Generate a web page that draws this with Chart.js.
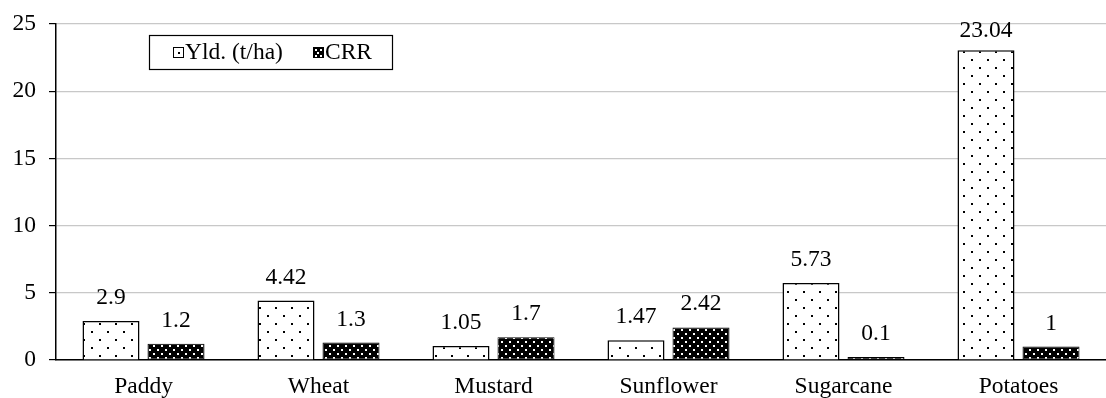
<!DOCTYPE html>
<html>
<head>
<meta charset="utf-8">
<script src="https://cdn.jsdelivr.net/npm/chart.js@4.4.1/dist/chart.umd.min.js"></script>
<style>
  html, body { margin: 0; padding: 0; background: #ffffff; }
  #wrap { width: 1106px; height: 398px; position: relative; }
</style>
</head>
<body>
<div id="wrap"><canvas id="c"></canvas></div>
<script>
// Crop yield and CRR by crop
const categories = ['Paddy', 'Wheat', 'Mustard', 'Sunflower', 'Sugarcane', 'Potatoes'];
const yieldValues = [2.9, 4.42, 1.05, 1.47, 5.73, 23.04];
const crrValues = [1.2, 1.3, 1.7, 2.42, 0.1, 1];
const seriesNames = ['Yld. (t/ha)', 'CRR'];
const yTicks = [0, 5, 10, 15, 20, 25];

const FONT = '"Liberation Serif", "Times New Roman", serif';
const FONT_SIZE = 23.5;

// Sparse black dots on white
function lightDots() {
  const t = document.createElement('canvas');
  t.width = 16; t.height = 16;
  const g = t.getContext('2d');
  g.fillStyle = '#ffffff'; g.fillRect(0, 0, 16, 16);
  g.fillStyle = '#000000';
  g.fillRect(3, 3, 2, 2);
  g.fillRect(11, 11, 2, 2);
  return g.createPattern(t, 'repeat');
}
// Dense white dots on black
function darkDots() {
  const t = document.createElement('canvas');
  t.width = 8; t.height = 8;
  const g = t.getContext('2d');
  g.fillStyle = '#000000'; g.fillRect(0, 0, 8, 8);
  g.fillStyle = '#ffffff';
  g.fillRect(1, 1, 2, 2);
  g.fillRect(5, 5, 2, 2);
  return g.createPattern(t, 'repeat');
}

// Value printed above each bar, kept below the top of the plot area
const valueLabels = {
  id: 'valueLabels',
  afterDatasetsDraw(chart) {
    const ctx = chart.ctx;
    const minBase = chart.chartArea.top + 13;
    ctx.save();
    ctx.font = FONT_SIZE + 'px ' + FONT;
    ctx.fillStyle = '#000';
    ctx.textAlign = 'center';
    ctx.textBaseline = 'alphabetic';
    chart.data.datasets.forEach((ds, i) => {
      chart.getDatasetMeta(i).data.forEach((bar, j) => {
        ctx.fillText(String(ds.data[j]), bar.x, Math.max(bar.y - 17, minBase));
      });
    });
    ctx.restore();
  }
};

const boxedLegend = {
  id: 'boxedLegend',
  afterDraw(chart) {
    const ctx = chart.ctx;
    const x0 = 149, y0 = 35, w = 243, h = 34;
    ctx.save();
    ctx.fillStyle = '#fff';
    ctx.fillRect(x0, y0, w, h);
    ctx.strokeStyle = '#000';
    ctx.lineWidth = 1.2;
    ctx.strokeRect(x0 + 0.5, y0 + 0.5, w, h);
    ctx.font = FONT_SIZE + 'px ' + FONT;
    ctx.textBaseline = 'middle';
    ctx.fillStyle = '#000';
    // first marker: open square with a centre dot
    ctx.lineWidth = 1;
    ctx.strokeRect(173.5, 47.5, 10, 10);
    ctx.fillRect(178, 52, 2, 2);
    ctx.fillText(seriesNames[0], 185, 53);
    // second marker: filled dotted square
    ctx.fillRect(313, 47, 11, 11);
    ctx.fillStyle = '#fff';
    ctx.fillRect(315, 49, 2, 2);
    ctx.fillRect(320, 49, 2, 2);
    ctx.fillRect(317, 52, 2, 2);
    ctx.fillRect(315, 55, 2, 2);
    ctx.fillRect(320, 55, 2, 2);
    ctx.fillStyle = '#000';
    ctx.fillText(seriesNames[1], 325, 53);
    ctx.restore();
  }
};

new Chart(document.getElementById('c'), {
  type: 'bar',
  data: {
    labels: categories,
    datasets: [
      {
        label: seriesNames[0],
        data: yieldValues,
        backgroundColor: lightDots(),
        borderColor: '#000',
        borderWidth: 1.5,
        borderSkipped: 'bottom',
        categoryPercentage: 0.743,
        barPercentage: 0.877
      },
      {
        label: seriesNames[1],
        data: crrValues,
        backgroundColor: darkDots(),
        borderColor: '#000',
        borderWidth: 1,
        borderSkipped: false,
        minBarLength: 3,
        categoryPercentage: 0.743,
        barPercentage: 0.877
      }
    ]
  },
  options: {
    responsive: true,
    maintainAspectRatio: false,
    animation: false,
    events: [],
    layout: { padding: { top: 24, right: 0, left: 0, bottom: 0 } },
    plugins: {
      legend: { display: false },
      tooltip: { enabled: false }
    },
    scales: {
      x: {
        grid: { display: false, drawTicks: false },
        border: { color: '#000', width: 1.5 },
        ticks: { color: '#000', font: { family: FONT, size: FONT_SIZE }, padding: 13, maxRotation: 0 },
        afterFit(s) { s.height = 38; s.paddingLeft = 0; s.paddingRight = 0; }
      },
      y: {
        min: 0, max: 25,
        afterBuildTicks(s) { s.ticks = yTicks.map(v => ({ value: v })); },
        grid: { color: '#c8c8c8', lineWidth: 1.2, tickColor: '#000', tickLength: 7 },
        border: { color: '#000', width: 1.5 },
        ticks: { color: '#000', font: { family: FONT, size: FONT_SIZE }, padding: 13 },
        afterFit(s) { s.width = 56; s.paddingTop = 0; s.paddingBottom = 0; }
      }
    }
  },
  plugins: [valueLabels, boxedLegend]
});
</script>
</body>
</html>
